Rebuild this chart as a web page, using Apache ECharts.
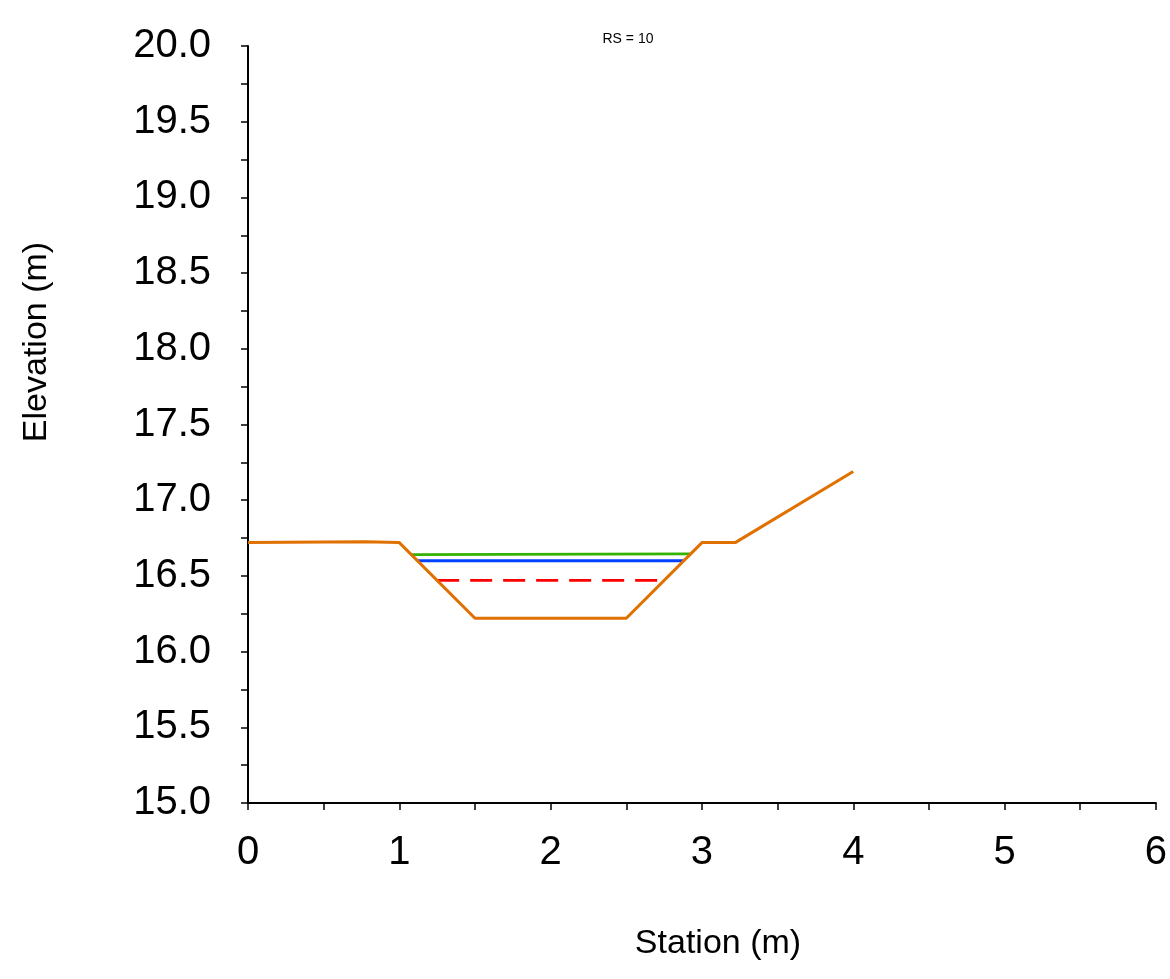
<!DOCTYPE html>
<html><head><meta charset="utf-8">
<script src="https://cdn.jsdelivr.net/npm/echarts@6/dist/echarts.min.js"></script>
<style>html,body{margin:0;padding:0;background:#fff}#c{width:1170px;height:979px}</style>
</head><body><div id="c"></div>
<script>
const groundStation = [0, 0.77, 1.0, 1.5, 2.5, 3.0, 3.22, 4.0];
const groundElev    = [16.72, 16.725, 16.72, 16.22, 16.22, 16.72, 16.72, 17.19];
const greenStation = [1.08, 2.92];
const greenElev    = [16.64, 16.645];
const blueStation  = [1.12, 2.88];
const blueElev     = [16.60, 16.60];
const redStation   = [1.25, 2.75];
const redElev      = [16.47, 16.47];
const xTicks = [0, 1, 2, 3, 4, 5, 6];
const yTicks = [15.0, 15.5, 16.0, 16.5, 17.0, 17.5, 18.0, 18.5, 19.0, 19.5, 20.0];

const pairs = (xs, ys) => xs.map((x, i) => [x, ys[i]]);
const font = 'Liberation Sans, Arial, sans-serif';
const chart = echarts.init(document.getElementById('c'));
chart.setOption({
  animation: false,
  grid: {left: 248, right: 14, top: 46, bottom: 176},
  graphic: [
    {type: 'text', x: 628, y: 39,
      style: {text: 'RS = 10', font: '14px ' + font, fill: '#000', textAlign: 'center', textVerticalAlign: 'middle'}},
    {type: 'text', x: 37, y: 342, rotation: Math.PI/2,
      style: {text: 'Elevation (m)', font: '34px ' + font, fill: '#000', textAlign: 'center', textVerticalAlign: 'middle'}},
    {type: 'text', x: 718, y: 944,
      style: {text: 'Station (m)', font: '34px ' + font, fill: '#000', textAlign: 'center', textVerticalAlign: 'middle'}}
  ],
  xAxis: {type: 'value', min: 0, max: 6, interval: 0.5,
    axisLine: {show: true, lineStyle: {color: '#000', width: 2}},
    axisTick: {show: true, length: 7, lineStyle: {color: '#000', width: 1.5}},
    axisLabel: {fontFamily: font, fontSize: 40, color: '#000', margin: 30,
      formatter: v => (xTicks.indexOf(v) >= 0 ? String(v) : '')},
    splitLine: {show: false}},
  yAxis: {type: 'value', min: 15, max: 20, interval: 0.25,
    axisLine: {show: true, lineStyle: {color: '#000', width: 2}},
    axisTick: {show: true, length: 7, lineStyle: {color: '#000', width: 1.5}},
    axisLabel: {fontFamily: font, fontSize: 40, color: '#000', margin: 37, padding: [7, 0, 0, 0],
      formatter: v => (yTicks.some(t => Math.abs(t - v) < 1e-9) ? v.toFixed(1) : '')},
    splitLine: {show: false}},
  series: [
    {type: 'line', data: pairs(greenStation, greenElev), symbol: 'none', lineStyle: {color: '#33b300', width: 2.8}},
    {type: 'line', data: pairs(blueStation, blueElev), symbol: 'none', lineStyle: {color: '#0040ff', width: 2.8}},
    {type: 'line', data: pairs(redStation, redElev), symbol: 'none', lineStyle: {color: '#ff0000', width: 2.8, type: [22, 11]}},
    {type: 'line', data: pairs(groundStation, groundElev), symbol: 'none', lineStyle: {color: '#e07000', width: 3}}
  ]
});
</script></body></html>
